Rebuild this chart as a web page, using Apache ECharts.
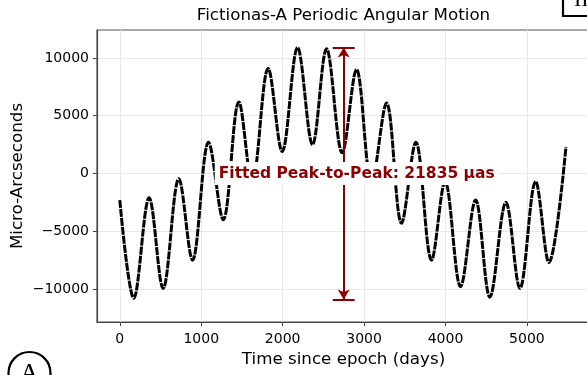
<!DOCTYPE html>
<html><head><meta charset="utf-8">
<script src="https://cdn.jsdelivr.net/npm/echarts@6/dist/echarts.min.js"></script>
<style>html,body{margin:0;padding:0;background:#fff}#c{width:587px;height:375px}</style>
</head><body><div id="c"></div>
<script>
// Extrema of the periodic motion (days, micro-arcseconds)
const days = [0,172,360,532,725,893,1090,1270,1462,1625,1822,1994,2183,2367,2539,2731,2907,3092,3276,3460,3636,3829,3995,4185,4370,4545,4742,4914,5107,5270,5480];
const microArcsec = [-2300,-10800,-2100,-9950,-450,-7500,2700,-4000,6200,-800,9100,1900,10900,2500,10800,1800,9000,-800,6100,-4300,2700,-7500,-700,-9800,-2300,-10700,-2500,-9950,-700,-7700,2300];
const xTicks = [0,1000,2000,3000,4000,5000];
const yTicks = [-10000,-5000,0,5000,10000];
const arrowDay = 2750;
const peakToPeak = 21835;
const capHalfWidth = 135;
const labelDay = 2910;
const labelText = 'Fitted Peak-to-Peak: 21835 \u00b5as';

const FONT = 'DejaVu Sans';
const RED = '#8b0000';
const half = peakToPeak / 2;
const fmt = v => String(v).replace('-', '\u2212');
const chart = echarts.init(document.getElementById('c'), null, {renderer: 'canvas'});

const axisCommon = {
  type: 'value',
  nameLocation: 'middle',
  nameMoveOverlap: false,
  nameTextStyle: {fontFamily: FONT, fontSize: 16.7, color: '#000'},
  axisLine: {show: true, onZero: false, lineStyle: {color: '#444', width: 1.2}},
  splitLine: {show: true, lineStyle: {color: '#e8e8e8', width: 1}},
};

chart.setOption({
  animation: false,
  backgroundColor: '#fff',
  grid: {left: 97, top: 30, width: 493, height: 292, containLabel: false, outerBoundsMode: 'none',
         show: true, borderColor: '#555', borderWidth: 1.2, backgroundColor: 'transparent'},
  xAxis: Object.assign({}, axisCommon, {
    min: -280, max: 5775,
    name: 'Time since epoch (days)', nameGap: 29,
    axisTick: {show: true, customValues: xTicks, length: 4, lineStyle: {color: '#444'}},
    axisLabel: {customValues: xTicks, formatter: fmt, fontFamily: FONT, fontSize: 14, color: '#000', margin: 10}
  }),
  yAxis: Object.assign({}, axisCommon, {
    min: -12857, max: 12424,
    name: 'Micro-Arcseconds', nameGap: 71,
    axisTick: {show: true, customValues: yTicks, length: 4, lineStyle: {color: '#444'}},
    axisLabel: {customValues: yTicks, formatter: fmt, fontFamily: FONT, fontSize: 14, color: '#000', margin: 8}
  }),
  series: [{
    type: 'line',
    data: days.map((d, i) => [d, microArcsec[i]]),
    smooth: 0.35,
    showSymbol: false,
    lineStyle: {color: '#000', width: 3, type: [8, 1]},
    z: 2,
    markLine: {
      silent: true,
      symbol: ['none', 'none'],
      label: {show: false},
      lineStyle: {color: RED, width: 2, type: 'solid'},
      data: [
        [{coord: [arrowDay, -half], symbol: 'arrow', symbolSize: [9, 10]}, {coord: [arrowDay, half], symbol: 'arrow', symbolSize: [9, 10]}],
        [{coord: [arrowDay - capHalfWidth, half]}, {coord: [arrowDay + capHalfWidth, half]}],
        [{coord: [arrowDay - capHalfWidth, -half]}, {coord: [arrowDay + capHalfWidth, -half]}]
      ]
    }
  }]
});

const lp = chart.convertToPixel({gridIndex: 0}, [labelDay, 0]);
chart.setOption({
  graphic: [
    {type: 'text', x: 343.5, y: 16, z: 10, style: {text: 'Fictionas-A Periodic Angular Motion', font: '16.7px "' + FONT + '"', fill: '#000', align: 'center', verticalAlign: 'middle'}},
    {type: 'text', x: lp[0], y: lp[1], z: 20, style: {text: labelText, font: 'bold 15.5px "' + FONT + '"', fill: RED, align: 'center', verticalAlign: 'middle', backgroundColor: '#fff', padding: [4, 4, 3, 4]}},
    {type: 'circle', z: 10, shape: {cx: 29.5, cy: 373, r: 21}, style: {fill: '#fff', stroke: '#000', lineWidth: 2.2}},
    {type: 'text', x: 29.5, y: 374, z: 11, style: {text: 'A', font: '26px "Liberation Serif"', fill: '#000', align: 'center', verticalAlign: 'middle'}},
    {type: 'rect', z: 10, shape: {x: 563, y: -40, width: 60, height: 56}, style: {fill: '#fff', stroke: '#000', lineWidth: 2.2}},
    {type: 'text', x: 574, y: 11, z: 11, style: {text: 'II', font: '22px "Liberation Serif"', fill: '#000', align: 'left', verticalAlign: 'bottom'}}
  ]
});
</script></body></html>
